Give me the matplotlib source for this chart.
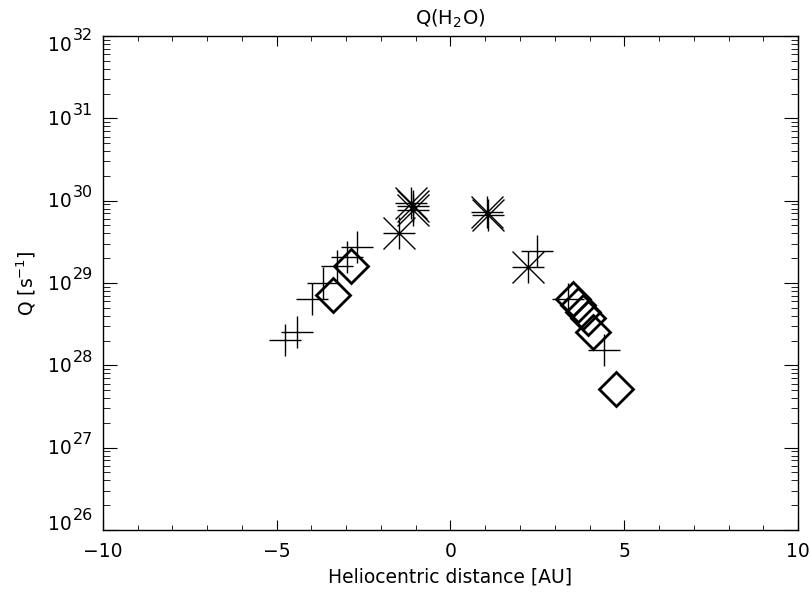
import numpy as np
import matplotlib
matplotlib.use('Agg')
import matplotlib.pyplot as plt
from matplotlib.path import Path

# heliocentric distance [AU] (negative = pre-perihelion) and log10 Q(H2O) [s^-1]
plus_r = [-4.76, -4.42, -3.99, -3.67, -3.26, -2.98, -2.70, 2.50, 3.39, 4.42]
plus_logq = [28.31, 28.40, 28.81, 29.00, 29.21, 29.32, 29.44, 29.39, 28.81, 28.19]

star_r = [-1.48, -1.09, -1.08, -1.15, 1.05, 1.07, 2.24]
star_logq = [29.61, 29.94, 29.89, 29.97, 29.86, 29.82, 29.19]

diam_r = [-3.39, -2.86, 3.53, 3.68, 3.82, 3.97, 4.11, 4.75]
diam_logq = [28.85, 29.21, 28.81, 28.73, 28.65, 28.57, 28.41, 27.71]

xticks = [-10, -5, 0, 5, 10]
ydecades = [26, 27, 28, 29, 30, 31, 32]

# IDL style asterisk: 4 strokes filling a square
ast = Path([(-1, 0), (1, 0), (0, -1), (0, 1), (-1, -1), (1, 1), (-1, 1), (1, -1)],
	[Path.MOVETO, Path.LINETO] * 4)

plt.rcParams['font.family'] = 'DejaVu Sans'
plt.rcParams['font.size'] = 13.5

F = plt.figure(figsize=(8.12, 5.92), dpi=100)
ax = F.add_axes([0.1268, 0.1047, 0.856, 0.8345])

ax.plot(plus_r, 10**np.array(plus_logq), ls='none', marker='+', ms=23, mew=1.0, color='k')
ax.plot(star_r, 10**np.array(star_logq), ls='none', marker=ast, ms=23, mew=1.0, color='k')
ax.plot(diam_r, 10**np.array(diam_logq), ls='none', marker='D', ms=17.5, mew=2.0,
	mfc='none', mec='k')

ax.set_yscale('log')
ax.set_xlim(-10, 10)
ax.set_ylim(1e26, 1e32)
ax.set_xticks(xticks)
ax.set_xticks(np.arange(-10, 11, 1), minor=True)
ax.set_yticks([10.0**k for k in ydecades])
ax.set_yticklabels([])

ax.tick_params(axis='both', which='both', direction='in', top=True, right=True,
	color='k', labelsize=13.5)
ax.tick_params(axis='x', which='major', length=7.2, pad=8.5)
ax.tick_params(axis='x', which='minor', length=3.8)
ax.tick_params(axis='y', which='major', length=10)
ax.tick_params(axis='y', which='minor', length=5)
for sp in ax.spines.values():
	sp.set_linewidth(1.0)

# IDL style decade labels: big exponent, end labels pulled inside the axis
for k in ydecades:
	if k == ydecades[-1]:
		dy = -10.5
	elif k == ydecades[0]:
		dy = 0.0
	else:
		dy = -4.9
	ax.annotate('10', xy=(0, 10.0**k), xycoords=('axes fraction', 'data'),
		xytext=(-22.7, dy), textcoords='offset points', ha='right', va='baseline',
		fontsize=13.5)
	ax.annotate(str(k), xy=(0, 10.0**k), xycoords=('axes fraction', 'data'),
		xytext=(-21.6, dy + 7.5), textcoords='offset points', ha='left', va='baseline',
		fontsize=11.5)

ax.set_title('Q(H$_2$O)', fontsize=14, pad=8)
ax.set_xlabel('Heliocentric distance [AU]', fontsize=13.5, labelpad=5)
ax.set_ylabel('Q [s$^{-1}$]', fontsize=13.5)
ax.yaxis.set_label_coords(-0.094, 0.5)

plt.savefig('out.png', dpi=100)
